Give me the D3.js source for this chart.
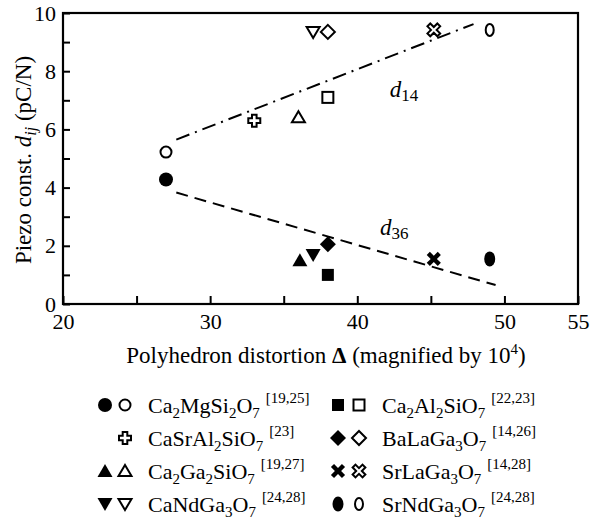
<!DOCTYPE html>
<html>
<head>
    <meta charset="utf-8" />
    <title>piezo vs distortion</title>
    <script src="https://d3js.org/d3.v7.min.js"></script>
    <style>
        body { margin: 0; background: #fff; }
        svg text { font-family: serif; fill: #000; }
    </style>
</head>
<body>
    <svg class="chart"></svg>
    <script>
        // data
        var compounds = ["Ca2MgSi2O7", "CaSrAl2SiO7", "Ca2Ga2SiO7", "CaNdGa3O7",
                         "Ca2Al2SiO7", "BaLaGa3O7", "SrLaGa3O7", "SrNdGa3O7"];
        var refs = ["19,25", "23", "19,27", "24,28", "22,23", "14,26", "14,28", "24,28"];
        var delta = [27, 33, 36, 37, 38, 38, 45.2, 49];
        var deltaD36 = [27, null, 36.1, 37, 38, 38, 45.2, 49];
        var d36 = [4.28, null, 1.5, 1.68, 1.0, 2.05, 1.55, 1.55];
        var d14 = [5.22, 6.3, 6.42, 9.35, 7.1, 9.35, 9.42, 9.42];
        var shapes = ["circle", "plus", "triUp", "triDown", "square", "diamond", "xcross", "ellipse"];

        var d14Fit = [[27.7, 5.65], [47.9, 9.62]];
        var d36Fit = [[27.7, 3.83], [49.4, 0.65]];

        var xTicks = [20, 25, 30, 35, 40, 45, 50, 55];
        var xLabels = [20, 30, 40, 50, 55];
        var yTicks = d3.range(0, 11, 1);
        var yLabels = [0, 2, 4, 6, 8, 10];

        var FONT = "serif";
        var svgWidth = 595, svgHeight = 532;
        var margin = {top: 13, right: 17, bottom: 228, left: 63};
        var width = svgWidth - margin.left - margin.right;
        var height = svgHeight - margin.top - margin.bottom;

        var svg = d3.select(".chart").attr("width", svgWidth).attr("height", svgHeight)
            .attr("font-family", FONT);
        var chart = svg.append("g").attr("transform", "translate(" + margin.left + "," + margin.top + ")");

        var xScale = d3.scaleLinear().domain([20, 55]).range([0, width]);
        var yScale = d3.scaleLinear().domain([0, 10]).range([height, 0]);

        var xAxis = d3.axisBottom(xScale).tickValues(xTicks).tickSizeInner(-8).tickSizeOuter(0)
            .tickFormat(d => xLabels.indexOf(d) >= 0 ? d : "");
        var yAxis = d3.axisLeft(yScale).tickValues(yTicks).tickSizeInner(-7).tickSizeOuter(0)
            .tickFormat(d => yLabels.indexOf(d) >= 0 ? d : "");

        var gx = chart.append("g").attr("transform", "translate(0," + height + ")").call(xAxis);
        var gy = chart.append("g").call(yAxis);
        [gx, gy].forEach(function (g) {
            g.attr("font-family", FONT).attr("font-size", 22);
            g.select(".domain").remove();
            g.selectAll("line").attr("stroke", "#000").attr("stroke-width", 2);
            g.selectAll("text").attr("fill", "#000").style("font-family", FONT);
        });
        gx.selectAll("text").attr("dy", 0).attr("y", 25);
        gy.selectAll("text").attr("x", -7);

        chart.append("rect").attr("width", width).attr("height", height)
            .attr("fill", "none").attr("stroke", "#000").attr("stroke-width", 2.2);

        // fit lines
        var line = d3.line().x(d => xScale(d[0])).y(d => yScale(d[1]));
        chart.append("path").datum(d14Fit).attr("d", line).attr("fill", "none")
            .attr("stroke", "#000").attr("stroke-width", 2).attr("stroke-dasharray", "14,6,2,6");
        chart.append("path").datum(d36Fit).attr("d", line).attr("fill", "none")
            .attr("stroke", "#000").attr("stroke-width", 2).attr("stroke-dasharray", "12,7");

        function fitLabel(x, y, sub) {
            var t = chart.append("text").attr("x", x).attr("y", y).style("font-size", "23px");
            t.append("tspan").style("font-style", "italic").text("d");
            t.append("tspan").attr("dy", 4).style("font-size", "17px").text(sub);
        }
        fitLabel(xScale(42.2), yScale(7.11), "14");
        fitLabel(xScale(41.55), yScale(2.37), "36");

        function plusPath(a, b) {
            return "M" + (-a) + "," + (-b) + "H" + a + "V" + (-a) + "H" + b + "V" + a + "H" + a +
                "V" + b + "H" + (-a) + "V" + a + "H" + (-b) + "V" + (-a) + "H" + (-a) + "Z";
        }

        function marker(g, shape, filled, x, y) {
            var fill = filled ? "#000" : "#fff";
            var sw = filled ? 0 : 2;
            var m;
            var s = g.append("g").attr("transform", "translate(" + x + "," + y + ")");
            if (shape === "circle") {
                m = s.append("circle").attr("r", filled ? 7 : 5.5);
            } else if (shape === "ellipse") {
                m = s.append("ellipse").attr("rx", filled ? 5.5 : 4).attr("ry", filled ? 7.5 : 6);
            } else if (shape === "square") {
                var h = filled ? 6 : 5.5;
                m = s.append("rect").attr("x", -h).attr("y", -h).attr("width", 2 * h).attr("height", 2 * h);
            } else if (shape === "triUp") {
                m = s.append("path").attr("d", filled ? "M0,-7L7.5,6L-7.5,6Z" : "M0,-6L6.5,5L-6.5,5Z");
            } else if (shape === "triDown") {
                m = s.append("path").attr("d", filled ? "M0,7L7.5,-6L-7.5,-6Z" : "M0,6L6.5,-5L-6.5,-5Z");
            } else if (shape === "diamond") {
                m = s.append("path").attr("d", filled ? "M0,-8L8,0L0,8L-8,0Z" : "M0,-7L7,0L0,7L-7,0Z");
            } else if (shape === "plus") {
                m = s.append("path").attr("d", plusPath(2.3, 6));
            } else if (shape === "xcross") {
                m = s.append("path").attr("d", filled ? plusPath(2.2, 7.8) : plusPath(2, 7))
                    .attr("transform", "rotate(45)");
            }
            m.attr("fill", fill).attr("stroke", filled ? "none" : "#000").attr("stroke-width", sw)
                .attr("stroke-linejoin", "miter");
        }

        // points
        compounds.forEach(function (c, i) {
            if (d14[i] != null) marker(chart, shapes[i], false, xScale(delta[i]), yScale(d14[i]));
            if (d36[i] != null) marker(chart, shapes[i], true, xScale(deltaD36[i]), yScale(d36[i]));
        });

        // axis titles
        var xt = svg.append("text").attr("x", 326).attr("y", 363).attr("text-anchor", "middle")
            .style("font-size", "23px");
        xt.append("tspan").text("Polyhedron distortion ");
        xt.append("tspan").style("font-weight", "bold").text("\u0394");
        xt.append("tspan").text(" (magnified by 10");
        xt.append("tspan").attr("dy", -9).style("font-size", "15px").text("4");
        xt.append("tspan").attr("dy", 9).text(")");

        var yt = svg.append("text").attr("transform", "translate(31,160) rotate(-90)")
            .attr("text-anchor", "middle").style("font-size", "23px");
        yt.append("tspan").text("Piezo const. ");
        yt.append("tspan").style("font-style", "italic").text("d");
        yt.append("tspan").attr("dy", 5).style("font-style", "italic").style("font-size", "16px").text("ij");
        yt.append("tspan").attr("dy", -5).text(" (pC/N)");

        // legend
        var legCols = [{f: 105, o: 125, t: 148}, {f: 338, o: 359, t: 382}];
        var legRows = [405, 438, 471, 504];
        var legend = svg.append("g");
        compounds.forEach(function (c, i) {
            var col = legCols[Math.floor(i / 4)], y = legRows[i % 4];
            if (d36[i] != null) marker(legend, shapes[i], true, col.f, y);
            marker(legend, shapes[i], false, col.o, y);
            var t = legend.append("text").attr("x", col.t).attr("y", y + 8).style("font-size", "22px");
            var parts = c.match(/[A-Za-z]+|\d+/g);
            var down = false;
            parts.forEach(function (p) {
                var isNum = /\d/.test(p);
                var ts = t.append("tspan").text(p);
                if (isNum) { ts.attr("dy", down ? 0 : 5).style("font-size", "15px"); down = true; }
                else { if (down) ts.attr("dy", -5); down = false; }
            });
            t.append("tspan").attr("dx", 6).attr("dy", down ? -15 : -10)
                .style("font-size", "15px").text("[" + refs[i] + "]");
        });
    </script>
</body>
</html>
